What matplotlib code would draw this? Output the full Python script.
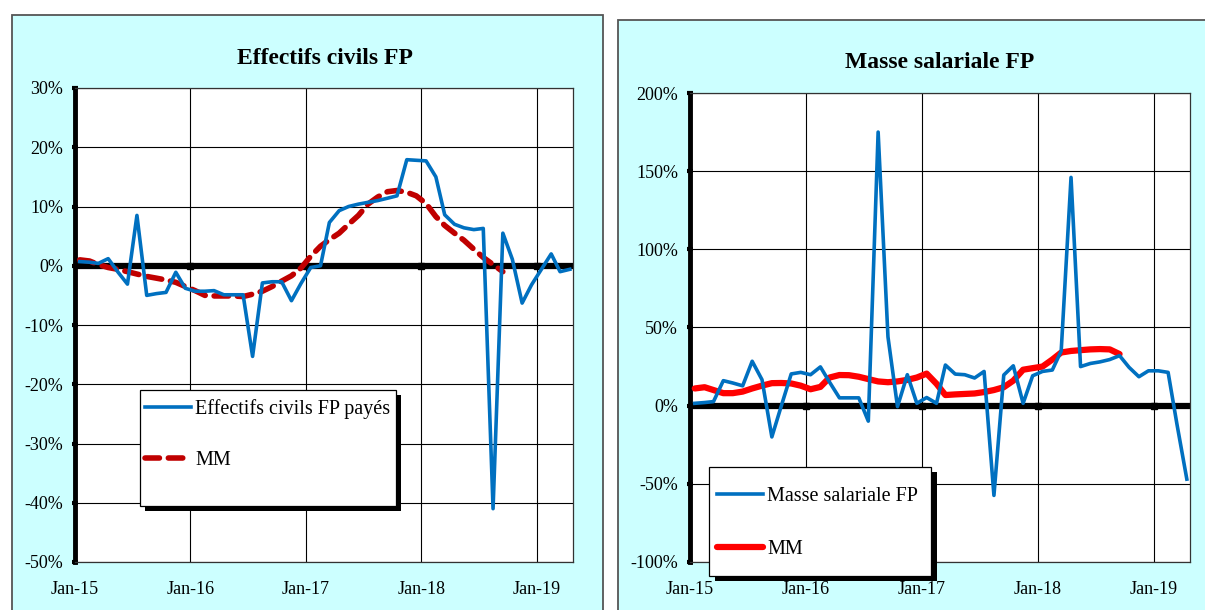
import matplotlib
matplotlib.use("Agg")
import matplotlib.pyplot as plt
import matplotlib.dates as mdates
from matplotlib.patches import Rectangle
from matplotlib.ticker import FuncFormatter, MultipleLocator
import pandas as pd

# monthly points, Jan-15 .. Apr-19, placed mid-month (Excel "between tick marks")
months = pd.date_range("2015-01-01", periods=52, freq="MS") + pd.Timedelta(days=15)

effectifs = [0.7, 0.6, 0.4, 1.2, -1.0, -3.1, 8.5, -5.0, -4.7, -4.5, -1.1, -3.8,
             -4.3, -4.3, -4.2, -4.9, -4.9, -4.9, -15.3, -2.9, -2.7, -2.7, -5.9, -3.0,
             -0.3, 0.0, 7.3, 9.3, 10.0, 10.4, 10.7, 11.0, 11.4, 11.8, 17.9, 17.8,
             17.7, 15.0, 8.6, 7.0, 6.4, 6.1, 6.3, -41.0, 5.5, 1.1, -6.3, -3.2,
             -0.6, 2.0, -1.0, -0.6]
effectifs_mm = [1.0, 0.8, 0.2, -0.3, -0.6, -1.0, -1.4, -1.8, -2.1, -2.4, -2.8, -3.5,
                -4.2, -5.0, -5.1, -5.1, -5.1, -5.2, -4.8, -4.3, -3.5, -2.6, -1.7, -0.4,
                1.6, 3.3, 4.4, 5.5, 7.0, 8.5, 10.4, 11.6, 12.5, 12.7, 12.4, 11.8,
                10.5, 8.3, 6.8, 5.5, 4.3, 2.8, 1.4, 0.2, -1.0]

masse = [1.5, 2.0, 2.6, 16.0, 14.5, 12.7, 28.4, 16.6, -20.0, 0.0, 20.3, 21.3,
         19.8, 24.8, 15.0, 5.0, 5.0, 5.0, -9.9, 175.0, 44.0, -0.6, 19.8, 1.5,
         5.2, 1.5, 26.0, 20.2, 19.8, 17.7, 21.9, -57.4, 19.6, 25.5, 1.5, 19.1,
         21.9, 22.8, 35.0, 146.0, 25.0, 27.0, 28.0, 29.5, 32.0, 24.5, 18.5, 22.3,
         22.3, 21.3, -12.0, -47.0]
masse_mm = [11.0, 11.8, 10.0, 8.0, 8.0, 9.0, 11.0, 12.8, 14.4, 14.5, 14.2, 12.8,
            10.5, 12.0, 18.0, 19.6, 19.5, 18.5, 17.0, 15.5, 15.0, 15.5, 16.5, 18.0,
            20.5, 14.0, 6.8, 7.2, 7.5, 7.8, 8.7, 10.0, 11.8, 16.0, 23.0, 24.0,
            25.0, 29.5, 34.0, 35.0, 35.5, 36.0, 36.2, 36.0, 33.0]

year_ticks = pd.date_range("2015-01-01", periods=5, freq="YS")

plt.rcParams["font.family"] = ["Liberation Serif", "DejaVu Serif"]

W, H = 1205, 610
fig = plt.figure(figsize=(W / 100, H / 100), dpi=100, facecolor="white")

# cyan chart panels
fig.patches.append(Rectangle((12 / W, -0.1), 591 / W, 1.1 - 15 / H, transform=fig.transFigure,
                             facecolor="#CCFFFF", edgecolor="#555555", lw=1.3, zorder=-5))
fig.patches.append(Rectangle((618 / W, -0.1), 0.6, 1.1 - 20 / H, transform=fig.transFigure,
                             facecolor="#CCFFFF", edgecolor="#555555", lw=1.3, zorder=-5))


def setup(ax, ylim, step):
    ax.set_facecolor("white")
    ax.set_xlim(pd.Timestamp("2015-01-01"), pd.Timestamp("2019-04-26"))
    ax.set_ylim(*ylim)
    ax.yaxis.set_major_locator(MultipleLocator(step))
    ax.yaxis.set_major_formatter(FuncFormatter(lambda v, p: f"{v:.0f}%"))
    ax.set_xticks(year_ticks)
    ax.xaxis.set_major_formatter(mdates.DateFormatter("%b-%y"))
    ax.grid(True, color="black", lw=0.8, zorder=1)
    for s in ["top", "right", "bottom"]:
        ax.spines[s].set_linewidth(0.9)
        ax.spines[s].set_color("#333333")
    ax.spines["left"].set_linewidth(3.5)
    ax.tick_params(axis="y", direction="inout", length=5, width=3, labelsize=13, pad=6)
    ax.tick_params(axis="x", length=0, labelsize=13, pad=14)
    ax.axhline(0, color="black", lw=4.5, zorder=2)
    ax.plot(year_ticks[1:], [0] * 4, "s", ms=4.5, color="black", zorder=2)
    ax.set_axisbelow(True)


def legend(ax, box, entries_at, spacing):
    # box: x0, y0, x1, y1 in axes fraction; black shadow offset bottom-right
    x0, y0, x1, y1 = box
    ax.add_patch(Rectangle((x0 + 0.011, y0 - 0.011), x1 - x0, y1 - y0, transform=ax.transAxes,
                           facecolor="black", edgecolor="none", zorder=5, clip_on=False))
    ax.add_patch(Rectangle((x0, y0), x1 - x0, y1 - y0, transform=ax.transAxes,
                           facecolor="white", edgecolor="black", lw=0.9, zorder=5.1,
                           clip_on=False))
    lg = ax.legend(loc="upper left", bbox_to_anchor=entries_at, borderaxespad=0, borderpad=0,
                   fontsize=14.5, frameon=False, handlelength=2.3, labelspacing=spacing,
                   handletextpad=0.2)
    lg.set_zorder(6)
    return lg


ax1 = fig.add_axes([75 / W, 48 / H, 498 / W, 474 / H])
setup(ax1, (-50, 30), 10)
ax1.plot(months, effectifs, color="#0070C0", lw=2.6, zorder=4, label="Effectifs civils FP payés")
ax1.plot(months[:len(effectifs_mm)], effectifs_mm, color="#C00000", lw=4, ls=(0, (2.6, 1.6)),
         dash_capstyle="round", zorder=3, label="MM")
legend(ax1, (0.1305, 0.118, 0.6446, 0.3629), (0.1406, 0.343), 1.55)

ax2 = fig.add_axes([690 / W, 48 / H, 500 / W, 469 / H])
setup(ax2, (-100, 200), 50)
ax2.plot(months, masse, color="#0070C0", lw=2.6, zorder=4, label="Masse salariale FP")
ax2.plot(months[:len(masse_mm)], masse_mm, color="#FF0000", lw=4.5, zorder=3,
         solid_capstyle="round", label="MM")
legend(ax2, (0.038, -0.030, 0.482, 0.2026), (0.054, 0.160), 1.7)

fig.text(325 / W, 1 - 58 / H, "Effectifs civils FP", ha="center", va="center",
         fontsize=17, fontweight="bold")
fig.text(940 / W, 1 - 62 / H, "Masse salariale FP", ha="center", va="center",
         fontsize=17, fontweight="bold")

fig.savefig("out.png", dpi=100, facecolor="white")
